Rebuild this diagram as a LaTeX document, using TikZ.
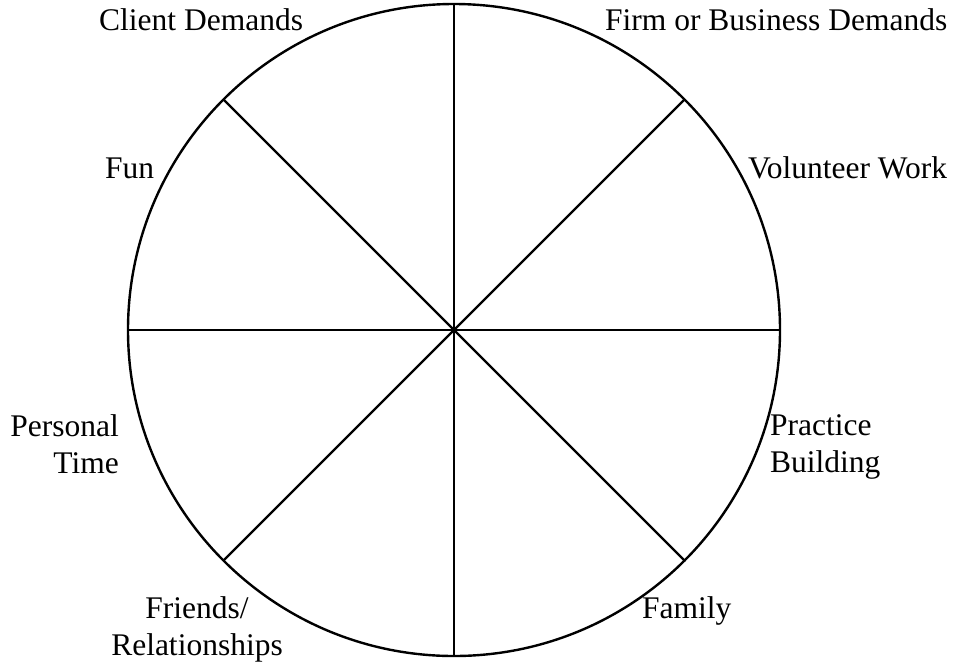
\documentclass[tikz,border=0pt]{standalone}
\usepackage{fontspec}
\setmainfont{Liberation Serif}
\begin{document}
\begin{tikzpicture}[x=1pt,y=-1pt,
    wheel/.style={circle,draw,line width=2.4pt,minimum size=652pt,inner sep=0pt,outer sep=0pt},
    spoke/.style={line width=2.4pt},
    lbl/.style={inner sep=0pt,font=\fontsize{31.5}{36.5}\selectfont}]
  \useasboundingbox (0,0) rectangle (963,665);
  % the wheel and its four diameters
  \node[wheel] (c) at (454,330) {};
  \draw[spoke] (c.north) -- (c.south);
  \draw[spoke] (c.west) -- (c.east);
  \draw[spoke] (c.45) -- (c.225);
  \draw[spoke] (c.135) -- (c.315);
  % segment labels (multi-line ones sit on the baseline of their last line)
  \node[lbl,anchor=base west] (client) at (99,30) {Client Demands};
  \node[lbl,anchor=base west] (firm) at (605,30) {Firm or Business Demands};
  \node[lbl,anchor=base west] (fun) at (105,178) {Fun};
  \node[lbl,anchor=base west] (vol) at (748,178) {Volunteer Work};
  \node[lbl,anchor=base east,align=right] (pers) at (119,473) {Personal\\Time};
  \node[lbl,anchor=base west,align=left] (prac) at (770,472) {Practice\\Building};
  \node[lbl,anchor=base,align=center] (friends) at (197,655) {Friends/\\Relationships};
  \node[lbl,anchor=base west] (family) at (642,618) {Family};
\end{tikzpicture}
\end{document}
